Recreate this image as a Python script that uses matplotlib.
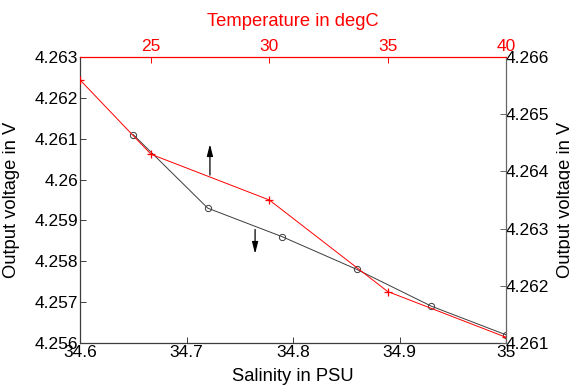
import numpy as np
import matplotlib
matplotlib.use("Agg")
import matplotlib.pyplot as plt

plt.rcParams['font.family'] = ['Liberation Sans', 'DejaVu Sans']

# salinity sweep (bottom / left axes)
salinity = [34.65, 34.72, 34.79, 34.86, 34.93, 35.0]
volt_sal = [4.2611, 4.2593, 4.2586, 4.2578, 4.2569, 4.2562]

# temperature sweep (top / right axes)
temperature = [22, 25, 30, 35, 40]
volt_temp = [4.2656, 4.2643, 4.2635, 4.2619, 4.2611]

sal_ticks = [34.6, 34.7, 34.8, 34.9, 35.0]
sal_labels = ['34.6', '34.7', '34.8', '34.9', '35']
vl_ticks = [4.256, 4.257, 4.258, 4.259, 4.260, 4.261, 4.262, 4.263]
vl_labels = ['4.256', '4.257', '4.258', '4.259', '4.26', '4.261', '4.262', '4.263']
temp_ticks = [25, 30, 35, 40]
vr_ticks = [4.261, 4.262, 4.263, 4.264, 4.265, 4.266]
vr_labels = ['4.261', '4.262', '4.263', '4.264', '4.265', '4.266']

W, H = 570, 385
fig = plt.figure(figsize=(W / 100, H / 100), dpi=100)
pos = [80 / W, (H - 343) / H, 426 / W, 286 / H]

dark = '#3c3c3c'
red = '#ff0000'
fs = 12.5
lfs = 13.2

ax1 = fig.add_axes(pos)
ax1.plot(salinity, volt_sal, color=dark, lw=0.7, marker='o', ms=4.5,
         mfc='none', mec=dark, mew=0.7)
ax1.set_xlim(34.6, 35.0)
ax1.set_ylim(4.256, 4.263)
ax1.set_xticks(sal_ticks)
ax1.set_xticklabels(sal_labels)
ax1.set_yticks(vl_ticks)
ax1.set_yticklabels(vl_labels)
ax1.tick_params(direction='in', length=4, width=0.7, colors=dark,
                labelcolor='black', labelsize=fs, pad=1.5)
for s in ['top', 'right']:
    ax1.spines[s].set_visible(False)
for s in ['left', 'bottom']:
    ax1.spines[s].set_color(dark)
    ax1.spines[s].set_linewidth(0.9)
ax1.set_xlabel('Salinity in PSU', fontsize=lfs)
ax1.xaxis.set_label_coords(0.5, -0.087)
ax1.set_ylabel('Output voltage in V', fontsize=lfs, va='center')
ax1.yaxis.set_label_coords(-0.16, 0.5)

ax2 = fig.add_axes(pos)
ax2.patch.set_visible(False)
ax2.plot(temperature, volt_temp, color=red, lw=0.7, marker='+', ms=5.5,
         mew=0.9)
ax2.set_xlim(22, 40)
ax2.set_ylim(4.261, 4.266)
ax2.xaxis.tick_top()
ax2.yaxis.tick_right()
ax2.set_xticks(temp_ticks)
ax2.set_yticks(vr_ticks)
ax2.set_yticklabels(vr_labels)
ax2.tick_params(axis='x', direction='in', length=4, width=0.7, colors=red,
                labelsize=fs, pad=2)
ax2.tick_params(axis='y', direction='in', length=4, width=0.7, colors='#666666',
                labelcolor='black', labelsize=fs, pad=0)
for s in ['left', 'bottom']:
    ax2.spines[s].set_visible(False)
ax2.spines['top'].set_color(red)
ax2.spines['top'].set_linewidth(0.9)
ax2.spines['right'].set_color('#666666')
ax2.spines['right'].set_linewidth(0.9)
ax2.xaxis.set_label_position('top')
ax2.yaxis.set_label_position('right')
ax2.set_xlabel('Temperature in degC', fontsize=lfs, color=red)
ax2.xaxis.set_label_coords(0.5, 1.11)
ax2.set_ylabel('Output voltage in V', fontsize=lfs, rotation=90, va='center')
ax2.yaxis.set_label_coords(1.14, 0.5)

# direction arrows
arr = dict(arrowstyle='-|>,head_width=0.18,head_length=0.7', color='black',
           lw=0.9, shrinkA=0, shrinkB=0)
ax1.annotate('', xy=(0.305, 0.695), xytext=(0.305, 0.587),
             xycoords='axes fraction', arrowprops=arr)
ax1.annotate('', xy=(0.411, 0.312), xytext=(0.411, 0.397),
             xycoords='axes fraction', arrowprops=arr)

fig.savefig('out.png', dpi=100)
